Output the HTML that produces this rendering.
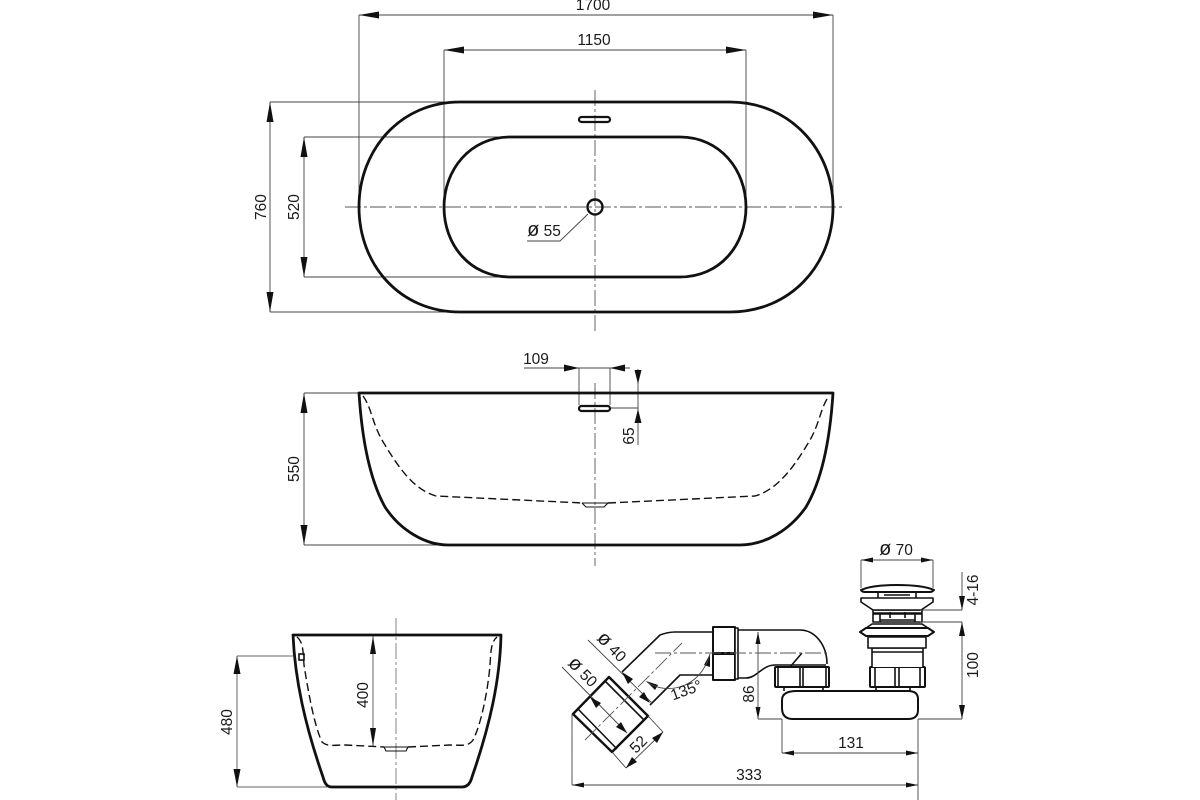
<!DOCTYPE html>
<html><head><meta charset="utf-8"><style>
html,body{margin:0;padding:0;background:#fff}
svg{display:block}
text{font-family:"Liberation Sans",sans-serif;font-size:15.500px;fill:#1a1a1a;text-anchor:middle}
.p{font-size:20px}
.d{fill:none;stroke:#444;stroke-width:.9}
.c{fill:none;stroke:#555;stroke-width:.9;stroke-dasharray:16 3 3 3}
.k{fill:none;stroke:#111;stroke-width:2.800;stroke-linejoin:round}
.m{fill:none;stroke:#111;stroke-width:1.600;stroke-linejoin:round}
.w{fill:#fff;stroke:#111;stroke-width:1.600;stroke-linejoin:round}
.h{fill:none;stroke:#111;stroke-width:1.400;stroke-dasharray:8 4}
.a{fill:#111}
</style></head><body>
<svg width="1200" height="800" viewBox="0 0 1200 800" xmlns="http://www.w3.org/2000/svg">

<!-- top view -->
<path class="d" d="M359 15V207M833 15V207M444 50V207M746 50V207M270 102H460M270 312H460M304 137H510M304 277H510M359 15H833M444 50H746M270 102V312M304 137V277"/>
<path class="a" d="M359 15l20-3.500v7zM833 15l-20-3.500v7zM444 50l20-3.500v7zM746 50l-20-3.500v7zM270 102l-3.500 20h7zM270 312l-3.500-20h7zM304 137l-3.500 20h7zM304 277l-3.500-20h7z"/>
<path class="c" d="M345 207H843M595 90V333"/>
<path class="k" d="M460 102H730C790 102 833 150 833 207C833 265 790 312 730 312H460C400 312 359 265 359 207C359 150 400 102 460 102Z"/>
<path class="k" d="M510 137H680C720 137 746 170 746 207C746 245 720 277 680 277H510C470 277 444 245 444 207C444 170 470 137 510 137Z"/>
<rect class="m" x="579" y="117" width="31" height="5" rx="2.500" style="stroke-width:2.200"/>
<circle cx="595" cy="207" r="7.500" fill="none" stroke="#111" stroke-width="2.400"/>
<path class="d" d="M588 214L560 241H527"/>
<text x="593" y="10">1700</text>
<text x="594" y="45">1150</text>
<text x="544" y="236"><tspan class="p">ø</tspan> 55</text>
<text transform="translate(266,207) rotate(-90)">760</text>
<text transform="translate(299,207) rotate(-90)">520</text>

<!-- side view -->
<path class="d" d="M304 393H360M304 545H445M524 368H630M579 368V405M610 368V405M611 408H638M638 369V445M304 393V545"/>
<path class="a" d="M579 368l-15-3.500v7zM610 368l15-3.500v7zM638 384l-3.500-14h7zM638 409l-3.500 14h7zM304 393l-3.500 20h7zM304 545l-3.500-20h7z"/>
<path class="c" d="M595 383V566"/>
<path class="k" d="M359 393H833C830 440 822 480 806 507C790 530 765 545 740 545H448C425 545 400 530 385 507C370 480 362 440 359 393Z"/>
<rect class="m" x="579" y="406" width="31" height="5" rx="2.500" style="stroke-width:2.200"/>
<path class="h" d="M363 396C372 408 372 425 385 445C400 470 415 490 436 496L583 503M608 503L755 496C776 490 792 470 807 445C820 425 820 408 829 396"/>
<path class="m" style="stroke-width:1.100" d="M582 503L586 507H604L608 503M582 503H608"/>
<text transform="translate(299,469) rotate(-90)">550</text>
<text x="536" y="364">109</text>
<text transform="translate(634,436) rotate(-90)">65</text>

<!-- front view -->
<path d="M237 656H293M237 787H327M373 636V746M237 656V787" fill="none" stroke="#666" stroke-width="1"/>
<path class="a" d="M237 656l-3.500 18h7zM237 787l-3.500-18h7zM373 636l-3 18h6zM373 746l-3-18h6z"/>
<path class="c" d="M396 618V800" style="stroke:#777"/>
<path class="k" d="M293 635H501C500 680 490 725 472 777C470 785 466 787 462 787H332C328 787 325 785 323 777C305 725 295 680 293 635Z"/>
<path class="h" d="M297 637C303 642 303 650 304 665C308 690 314 725 322 742C328 747 332 745 345 745L384 747M408 747L450 745C462 745 468 747 473 740C481 725 488 690 490 665C491 650 491 642 497 637"/>
<path class="m" style="stroke-width:1.100" d="M384 747L386 751H406L408 747M384 747H408"/>
<rect x="299" y="654" width="5" height="6" fill="none" stroke="#111" stroke-width="1.600"/>
<text transform="translate(368,695) rotate(-90)">400</text>
<text transform="translate(232,722) rotate(-90)">480</text>

<!-- drain: pipes -->
<path class="m" d="M622 672L660 635Q668 632 675 632H713M650 705L680 675H713"/>
<path class="m" d="M738 630H800C815 630 827 645 827 664M738 678H746C757 678 762 665 775 665H778M790 667L802 653"/>
<path class="m" style="stroke-width:2.400" d="M573 714L609 677L648 716L612 752Z"/>
<path class="m" d="M578 709L617 749M605 681L644 720"/>
<rect class="w" x="713" y="627" width="22" height="53" style="stroke-width:2"/>
<rect class="w" x="735" y="628" width="3" height="51"/>
<path fill="#111" d="M713 652h22v3h-22z"/>
<path class="w" d="M784 691V687M823 691V687M876 691V687M910 691V687"/>
<path class="w" style="stroke-width:2" d="M797 691H908Q918 691 918 699V710Q918 719 908 719H793Q782 719 782 708V700Q782 691 797 691Z"/>
<rect class="w" x="775" y="667" width="54" height="20" rx="1" style="stroke-width:2"/>
<path class="m" d="M778 667V687M826 667V687M800 667V687M803 667V687M778 665H826"/>
<rect class="w" x="870" y="667" width="55" height="20" rx="1" style="stroke-width:2"/>
<path class="m" d="M875 667V687M920 667V687M895 667V687M899 667V687"/>

<!-- drain: waste -->
<path class="w" d="M872 667V648H923V667"/>
<path class="m" d="M872 652H923"/>
<rect class="w" x="868" y="637" width="58" height="11"/>
<path class="w" style="stroke-width:2" d="M866 628H928L934 632L928 636H866L860 632Z"/>
<path class="m" d="M872 624H922L928 628H866Z"/>
<rect class="w" x="873" y="610" width="49" height="3"/>
<path class="m" d="M880 614H915M880 620H915M880 622H915M890 612V618M905 612V618"/>
<rect class="w" x="873" y="614" width="7" height="8"/>
<rect class="w" x="915" y="614" width="7" height="8"/>
<path class="w" d="M861 598H933V602L921 610H873L861 602Z"/>
<path class="m" d="M878 592V598M916 592V598M884 595H910"/>
<path class="w" style="stroke-width:2" d="M861 590C870 586 885 585 897 585C910 585 925 586 934 590Q932 592 930 592H865Q862 592 861 590Z"/>

<!-- drain: dimensions -->
<path class="d" d="M861 560V588M933 560V588M920 610H962M920 622H962M918 719H962M758 719H782M782 719V753M918 719V800M572 714V785M612 752L626 768M648 716L663 732M562 667L627 733M588 640L652 703M861 560H933M782 753H918M572 785H918M758 632V719M962 622V719M962 572V610M626 768L663 732"/>
<path class="a" d="M861 560l12-2.500v5zM933 560l-12-2.500v5zM782 753l12-2.500v5zM918 753l-12-2.500v5zM572 785l12-2.500v5zM918 785l-12-2.500v5zM758 632l-2.500 12h5zM758 719l-2.500-12h5zM962 622l-3 14h6zM962 719l-3-14h6zM962 610l-3-14h6z"/>
<path class="a" d="M590 697L601 703L596 708ZM627 733L621 722L616 727ZM622 672L633 679L628 684ZM650 703L644 692L639 697ZM626 768L637 762L632 757ZM663 732L657 743L652 738ZM646 681L655 690L658 685ZM710 654L704 665L710 667Z"/>
<path class="c" d="M585 740L682 643M655 653H827"/>
<path class="d" d="M647 682C665 695 700 690 710 654"/>

<!-- drain: labels -->
<text x="896" y="555"><tspan class="p">ø</tspan> 70</text>
<text x="851" y="748">131</text>
<text x="749" y="780">333</text>
<text transform="translate(754,694) rotate(-90)">86</text>
<text transform="translate(978,665) rotate(-90)">100</text>
<text transform="translate(978,590) rotate(-90)">4-16</text>
<text transform="translate(642,748) rotate(-45)">52</text>
<text transform="translate(579,676) rotate(45)"><tspan class="p">ø</tspan> 50</text>
<text transform="translate(608,651) rotate(45)"><tspan class="p">ø</tspan> 40</text>
<text transform="translate(688,695) rotate(-20)">135°</text>
</svg>
</body></html>
